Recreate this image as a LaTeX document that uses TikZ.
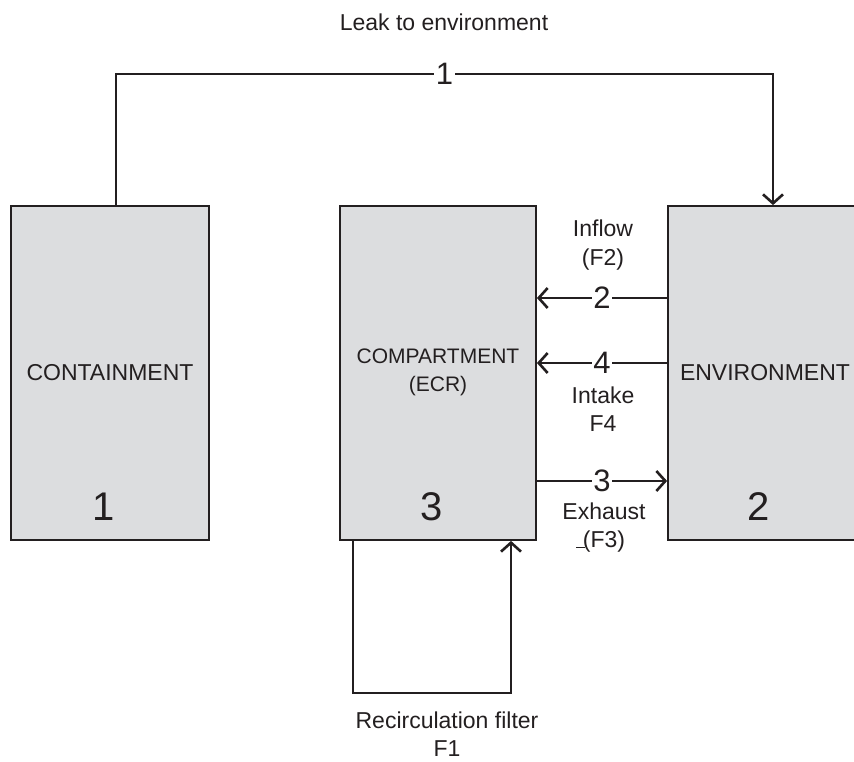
\documentclass[tikz,border=0pt]{standalone}
\usepackage{fontspec}
\setmainfont{Liberation Sans}
\usetikzlibrary{arrows.meta}
\definecolor{ink}{HTML}{231F20}
\definecolor{boxgray}{HTML}{DCDDDF}
\tikzset{
  compbox/.style={draw=ink, line width=1.8pt, fill=boxgray, minimum height=334pt, inner sep=0pt},
  conn/.style={draw=ink, line width=2.8pt},
  tip/.style={-{Straight Barb[length=9pt,width=20pt,line width=2.6pt]}},
  num/.style={fill=white, inner xsep=1.5pt, inner ysep=0pt, text=ink, font=\fontsize{31}{31}\selectfont},
  lbl/.style={text=ink, align=center, inner sep=0pt, font=\fontsize{23}{28.5}\selectfont},
  boxtxt/.style={text=ink, align=center, inner sep=0pt, font=\fontsize{21}{28}\selectfont},
  bignum/.style={text=ink, inner sep=0pt, font=\fontsize{40}{40}\selectfont}
}
\begin{document}
\begin{tikzpicture}[x=1pt,y=-1pt]
\useasboundingbox (0,0) rectangle (854,762);
\clip (0,0) rectangle (854,762);
% boxes
\node[compbox, minimum width=198pt] (cont) at (110,373) {};
\node[compbox, minimum width=196pt] (comp) at (438,373) {};
\node[compbox, minimum width=196pt] (env) at (766,373) {};
% box texts
\node[lbl] (conttxt) at (110,373) {CONTAINMENT};
\node[bignum] (contnum) at (104,507) {1};
\node[boxtxt] (comptxt) at (438,372) {COMPARTMENT\\(ECR)};
\node[bignum] (compnum) at (432,507) {3};
\node[lbl] (envtxt) at (765,373) {ENVIRONMENT};
\node[bignum] (envnum) at (759,507) {2};
% leak path
\coordinate (la) at (116,74);
\coordinate (lb) at (773,74);
\draw[conn, tip] ([xshift=6pt]cont.north) -- (la) -- node[num] (n1) {1} (lb) -- ([xshift=7pt]env.north);
\node[lbl] (leak) at (444,22) {Leak to environment};
% inflow
\draw[conn, tip] (env.west |- 0,298) -- node[num] (n2) {2} (comp.east |- 0,298);
\node[lbl] (inflow) at (603,245) {Inflow\\(F2)};
% intake
\draw[conn, tip] (env.west |- 0,363) -- node[num] (n4) {4} (comp.east |- 0,363);
\node[lbl] (intake) at (603,409) {Intake\\F4};
% exhaust
\draw[conn, tip] (comp.east |- 0,481) -- node[num] (n3) {3} (env.west |- 0,481);
\node[lbl] (exhaust) at (604,527.5) {Exhaust\\(F3)};
\draw[ink, line width=0.8pt] (576,547) -- (585,547);
% recirculation loop
\coordinate (ra) at (353,693);
\coordinate (rb) at (511,693);
\draw[conn, tip] (comp.south -| ra) -- (ra) -- (rb) -- (comp.south -| rb);
\node[lbl] (recirc) at (447,734) {Recirculation filter\\F1};
\end{tikzpicture}
\end{document}
